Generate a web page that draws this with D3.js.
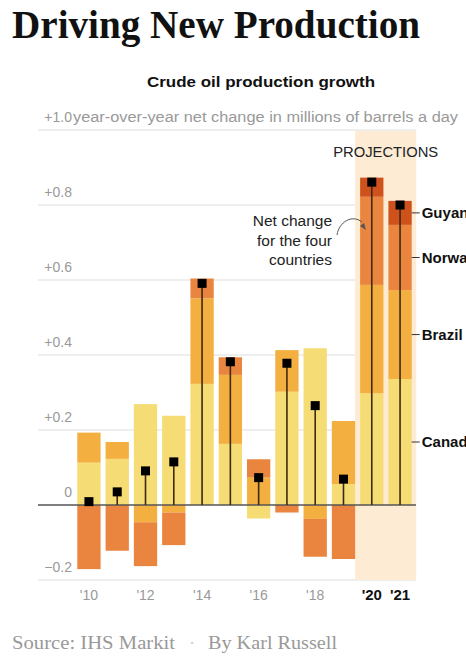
<!DOCTYPE html>
<html><head><meta charset="utf-8">
<script src="https://cdn.jsdelivr.net/npm/d3@7/dist/d3.min.js"></script>
<style>
html,body{margin:0;padding:0;background:#fff;}
svg{display:block;}
</style></head>
<body>
<script>
const years = [2010,2011,2012,2013,2014,2015,2016,2017,2018,2019,2020,2021];
const canada = [0.113,0.123,0.269,0.238,0.323,0.163,-0.036,0.302,0.418,0.056,0.298,0.336];
const brazil = [0.080,0.045,-0.046,-0.020,0.228,0.184,0.073,0.111,-0.037,0.168,0.289,0.237];
const norway = [-0.171,-0.122,-0.117,-0.087,0.053,0.047,0.049,-0.020,-0.101,-0.144,0.235,0.174];
const guyana = [0,0,0,0,0,0,0,0,0,0,0.051,0.064];
const net = [0.009,0.035,0.091,0.115,0.591,0.382,0.073,0.378,0.265,0.069,0.861,0.800];
const countries = ["Canada","Brazil","Norway","Guyana"];
const yTicks = [-0.2,0,0.2,0.4,0.6,0.8,1.0];
const yTickLabels = ["\u22120.2","0","+0.2","+0.4","+0.6","+0.8","+1.0"];
const xTickYears = [2010,2012,2014,2016,2018,2020,2021];
const xTickLabels = ["'10","'12","'14","'16","'18","'20","'21"];
const projectionYears = [2020,2021];
const labelYear = 2021;

const colors = {Canada:"#f6dc74",Brazil:"#f3b040",Norway:"#ea853f",Guyana:"#cf521c"};

const W=466,H=658;
const svg=d3.select("body").append("svg").attr("width",W).attr("height",H);

const rows = years.map((y,i)=>({year:y,Canada:canada[i],Brazil:brazil[i],Norway:norway[i],Guyana:guyana[i],net:net[i]}));

const x = d3.scaleBand().domain(years).range([72,417]).paddingInner(0.176).paddingOuter(0.187);
const y = d3.scaleLinear().domain([-0.2,1.0]).range([580,130]);
const gridL=38, gridR=416;
const sans = "'Liberation Sans',Arial,sans-serif";
const serif = "'Liberation Serif','DejaVu Serif',serif";

// title
svg.append("text").attr("x",12).attr("y",38)
  .attr("font-family",serif).attr("font-weight","bold")
  .attr("font-size",40).attr("fill","#111")
  .attr("textLength",408).attr("lengthAdjust","spacingAndGlyphs")
  .text("Driving New Production");

svg.append("text").attr("x",147).attr("y",87)
  .attr("font-family",sans).attr("font-weight","bold")
  .attr("font-size",15.5).attr("fill","#111")
  .attr("textLength",228).attr("lengthAdjust","spacingAndGlyphs")
  .text("Crude oil production growth");

// gridlines
const g = svg.append("g");
g.selectAll("line.grid").data(yTicks.filter(t=>t!==0)).join("line")
  .attr("x1",gridL).attr("x2",gridR).attr("y1",d=>y(d)).attr("y2",d=>y(d))
  .attr("stroke","#dedede").attr("stroke-width",1.2);

// y labels
g.selectAll("text.ylab").data(yTicks).join("text")
  .attr("x",72).attr("y",d=>y(d)-8).attr("text-anchor","end")
  .attr("font-family",sans).attr("font-size",14)
  .attr("fill","#999").text((d,i)=>yTickLabels[i]);

svg.append("text").attr("x",73).attr("y",y(1.0)-8)
  .attr("font-family",sans).attr("font-size",14)
  .attr("fill","#999").attr("textLength",385).attr("lengthAdjust","spacingAndGlyphs")
  .text("year-over-year net change in millions of barrels a day");

// projection shading
const step = x.step(), bw = x.bandwidth(), gap = step-bw;
const px0 = x(projectionYears[0]) - gap, px1 = x(projectionYears[projectionYears.length-1]) + bw + gap*0.9;
svg.append("rect").attr("x",px0).attr("y",y(1.0)+1).attr("width",px1-px0).attr("height",y(-0.2)-y(1.0)-1)
  .attr("fill","#fdebd4");
svg.append("text").attr("x",(px0+px1)/2).attr("y",157).attr("text-anchor","middle")
  .attr("font-family",sans).attr("font-size",15)
  .attr("fill","#222").attr("textLength",105).attr("lengthAdjust","spacingAndGlyphs")
  .text("PROJECTIONS");

// stacked bars
const stack = d3.stack().keys(countries).offset(d3.stackOffsetDiverging);
const series = stack(rows);
svg.append("g").selectAll("g").data(series).join("g")
  .attr("fill",d=>colors[d.key])
  .selectAll("rect").data(d=>d).join("rect")
  .attr("x",d=>x(d.data.year)).attr("width",bw)
  .attr("y",d=>y(Math.max(d[0],d[1])))
  .attr("height",d=>Math.abs(y(d[0])-y(d[1])));

// zero line
svg.append("line").attr("x1",gridL).attr("x2",gridR).attr("y1",y(0)).attr("y2",y(0))
  .attr("stroke","#555").attr("stroke-width",1.5);

// stems and dots
svg.append("g").selectAll("line").data(rows).join("line")
  .attr("x1",d=>x(d.year)+bw/2).attr("x2",d=>x(d.year)+bw/2)
  .attr("y1",y(0)).attr("y2",d=>y(d.net))
  .attr("stroke","#3d2a10").attr("stroke-width",1.6);
svg.append("g").selectAll("rect").data(rows).join("rect")
  .attr("x",d=>x(d.year)+bw/2-4.5).attr("y",d=>y(d.net)-4.5)
  .attr("width",9).attr("height",9).attr("fill","#000");

// country labels
const lastSeries = series.map(s=>({key:s.key,seg:s[years.indexOf(labelYear)]}));
const lx = x(labelYear)+bw;
const lg = svg.append("g").selectAll("g").data(lastSeries).join("g")
  .attr("transform",d=>`translate(0,${y((d.seg[0]+d.seg[1])/2)})`);
lg.append("line").attr("x1",lx).attr("x2",lx+8).attr("stroke","#333").attr("stroke-width",1);
lg.append("text").attr("x",lx+10).attr("y",5)
  .attr("font-family",sans).attr("font-weight","bold")
  .attr("font-size",15).attr("fill","#111").text(d=>d.key);

// annotation
const ann = ["Net change","for the four","countries"];
svg.append("g").selectAll("text").data(ann).join("text")
  .attr("x",332).attr("y",(d,i)=>226+i*19.5).attr("text-anchor","end")
  .attr("font-family",sans).attr("font-size",15.5)
  .attr("fill","#222").text(d=>d);
svg.append("path").attr("d","M337,235 C339,222 352,214 362,222")
  .attr("fill","none").attr("stroke","#555").attr("stroke-width",1);
svg.append("path").attr("d","M366,230 L360,226 L364,223 Z").attr("fill","#555");

// x labels
svg.append("g").selectAll("text").data(xTickYears).join("text")
  .attr("x",d=>x(d)+bw/2).attr("y",600).attr("text-anchor","middle")
  .attr("font-family",sans)
  .attr("font-size",d=>projectionYears.includes(d)?15:14)
  .attr("font-weight",d=>projectionYears.includes(d)?"bold":"normal")
  .attr("fill",d=>projectionYears.includes(d)?"#111":"#999")
  .text((d,i)=>xTickLabels[i]);

// source
const src = svg.append("g").attr("font-family",serif).attr("font-size",18).attr("fill","#999");
src.append("text").attr("x",12).attr("y",649).attr("textLength",163).attr("lengthAdjust","spacingAndGlyphs").text("Source: IHS Markit");
src.append("text").attr("x",192).attr("y",649).attr("text-anchor","middle").attr("fill","#ccc").text("\u00b7");
src.append("text").attr("x",208).attr("y",649).attr("textLength",129).attr("lengthAdjust","spacingAndGlyphs").text("By Karl Russell");
</script>
</body></html>
